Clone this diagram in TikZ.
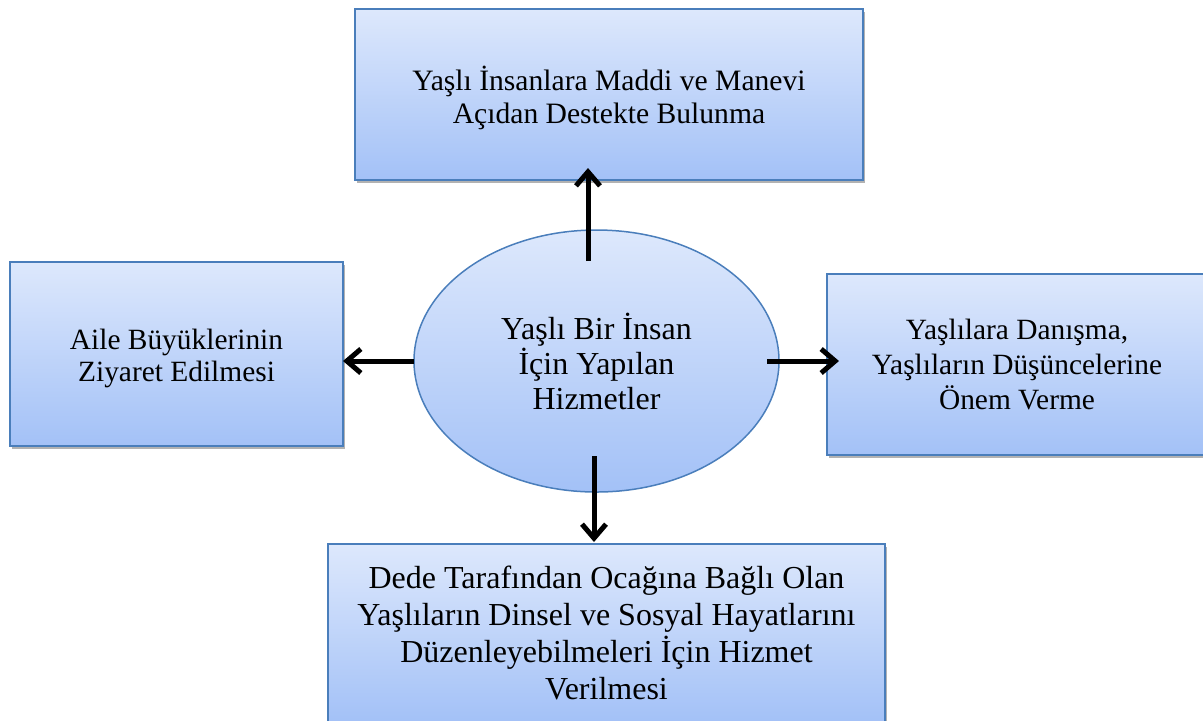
\documentclass[tikz,border=0pt]{standalone}
\usepackage{fontspec}
\setmainfont{Liberation Serif}
\usetikzlibrary{shapes.geometric,arrows.meta,calc,shadows}
\definecolor{bord}{HTML}{4A7EBB}
\definecolor{topc}{HTML}{DDE8FC}
\definecolor{botc}{HTML}{A3C1F7}
\begin{document}
\begin{tikzpicture}[x=0.5pt,y=-0.5pt,
  box/.style={rectangle,draw=bord,line width=0.75pt,top color=topc,bottom color=botc,
    align=center,inner sep=0pt,outer sep=0pt,
    drop shadow={shadow xshift=1pt,shadow yshift=-1.5pt,fill=black,opacity=0.3}},
  oval/.style={ellipse,draw=bord,line width=0.75pt,top color=topc,bottom color=botc,
    align=center,inner sep=0pt,outer sep=0pt},
  lbl/.style={align=center,inner sep=0pt},
  arr/.style={line width=2.5pt,-{Straight Barb[length=7pt,width=12pt]}}]
\useasboundingbox (0,0) rectangle (1203,720);
\clip (0,0) rectangle (1203,720);
\node[box,minimum width=254pt,minimum height=85.5pt] (top) at (609,94.5) {};
\node[lbl,font=\fontsize{14.8}{16.5}\selectfont] (toptext) at (609,98)
  {Yaşlı İnsanlara Maddi ve Manevi\\Açıdan Destekte Bulunma};
\node[box,minimum width=166.5pt,minimum height=92pt] (left) at (176.5,354) {};
\node[lbl,font=\fontsize{14.7}{16}\selectfont] (lefttext) at (176.5,358)
  {Aile Büyüklerinin\\Ziyaret Edilmesi};
\node[box,minimum width=190pt,minimum height=90.5pt,font=\fontsize{14.7}{17.5}\selectfont] (right) at (1017,364.5)
  {Yaşlılara Danışma,\\Yaşlıların Düşüncelerine\\Önem Verme};
\node[box,minimum width=278.5pt,minimum height=89pt,font=\fontsize{16}{18.5}\selectfont] (bot) at (606.5,633)
  {Dede Tarafından Ocağına Bağlı Olan\\Yaşlıların Dinsel ve Sosyal Hayatlarını\\Düzenleyebilmeleri İçin Hizmet\\Verilmesi};
\node[oval,minimum width=182.5pt,minimum height=131pt,font=\fontsize{16}{17.5}\selectfont] (c) at (596.5,361)
  {Yaşlı Bir İnsan\\İçin Yapılan\\Hizmetler};
\coordinate (u1) at ($(c.north)+(-8.5,31)$);
\draw[arr] (u1) -- ($(u1 |- top.south)+(0,-12)$);
\draw[arr] (c.west) -- (c.west -| left.east);
\coordinate (r1) at ($(c.east)+(-12,0)$);
\draw[arr] (r1) -- ($(r1 -| right.west)+(12,0)$);
\coordinate (d1) at ($(c.south)+(-2.5,-36)$);
\draw[arr] (d1) -- ($(d1 |- bot.north)+(0,-2)$);
\end{tikzpicture}
\end{document}
